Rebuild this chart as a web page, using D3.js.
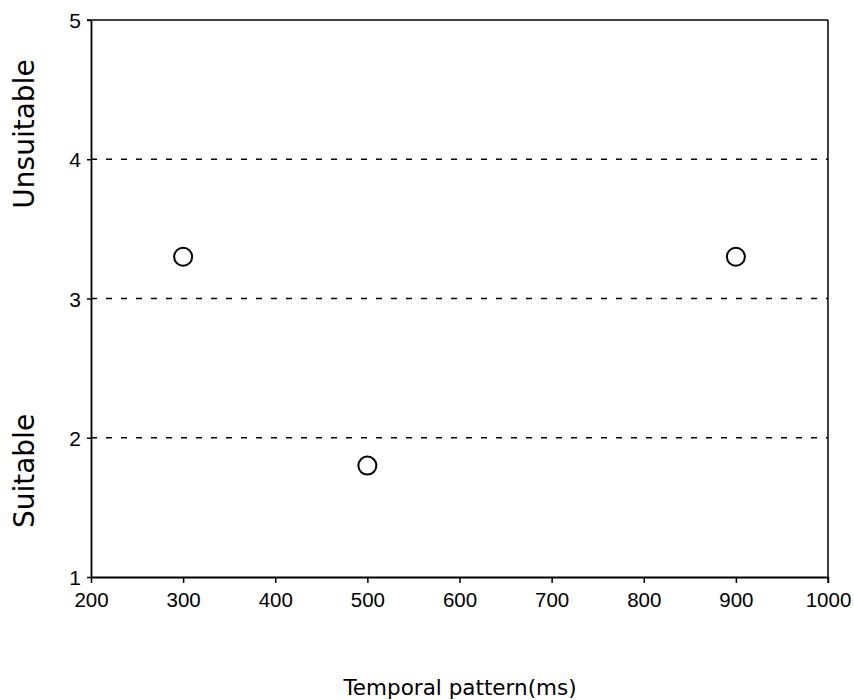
<!DOCTYPE html>
<html>
<head>
<meta charset="utf-8">
<script src="https://cdn.jsdelivr.net/npm/d3@7"></script>
<style>
  body { margin: 0; background: #fff; }
  svg { display: block; font-family: "DejaVu Sans", sans-serif; }
</style>
</head>
<body>
<div id="chart"></div>
<script>
// data
const patterns = [300, 500, 900];        // temporal pattern (ms)
const ratings = [3.3, 1.8, 3.3];         // mean rating
const xTicks = [200, 300, 400, 500, 600, 700, 800, 900, 1000];
const yTicks = [1, 2, 3, 4, 5];
const gridValues = [2, 3, 4];

const margin = { top: 20, right: 26, bottom: 123, left: 91 };
const width = 854 - margin.left - margin.right;
const height = 700 - margin.top - margin.bottom;

const svg = d3.select('#chart')
  .append('svg')
  .attr('width', 854)
  .attr('height', 700);

const g = svg.append('g')
  .attr('transform', `translate(${margin.left}, ${margin.top})`);

const x = d3.scaleLinear().domain([200, 1000]).range([0, width]);
const y = d3.scaleLinear().domain([1, 5]).range([height, 0]);

// dashed horizontal gridlines
g.selectAll('.grid')
  .data(gridValues)
  .enter()
  .append('line')
  .attr('class', 'grid')
  .attr('x1', 0)
  .attr('x2', width)
  .attr('y1', d => y(d))
  .attr('y2', d => y(d))
  .attr('stroke', '#000')
  .attr('stroke-width', 1.3)
  .attr('stroke-dasharray', '6,9');

// frame: top and right edges
g.append('line')
  .attr('x1', -4).attr('x2', width)
  .attr('y1', 0).attr('y2', 0)
  .attr('stroke', '#000').attr('stroke-width', 1.5);
g.append('line')
  .attr('x1', width).attr('x2', width)
  .attr('y1', 0).attr('y2', height + 6)
  .attr('stroke', '#000').attr('stroke-width', 1.5);

// x axis
const xAxis = g.append('g')
  .attr('transform', `translate(0, ${height})`)
  .call(d3.axisBottom(x).tickValues(xTicks).tickFormat(d3.format('d'))
    .tickSize(6).tickSizeOuter(0));
xAxis.select('.domain').attr('stroke-width', 1.8);
xAxis.selectAll('.tick line').attr('stroke-width', 1.5);
xAxis.selectAll('text')
  .attr('y', 15)
  .attr('dy', '0.73em')
  .style('font-size', '20.5px')
  .style('fill', '#000');

// y axis
const yAxis = g.append('g')
  .call(d3.axisLeft(y).tickValues(yTicks).tickFormat(d3.format('d'))
    .tickSize(4).tickSizeOuter(0));
yAxis.select('.domain').attr('stroke-width', 1.8);
yAxis.selectAll('.tick line').attr('stroke-width', 1.5);
yAxis.selectAll('text')
  .attr('x', -10)
  .attr('dy', '0.36em')
  .style('font-size', '21px')
  .style('fill', '#000');

// data points (open circles)
g.selectAll('.pt')
  .data(patterns)
  .enter()
  .append('circle')
  .attr('class', 'pt')
  .attr('cx', d => x(d))
  .attr('cy', (d, i) => y(ratings[i]))
  .attr('r', 9)
  .attr('fill', '#fff')
  .attr('stroke', '#000')
  .attr('stroke-width', 2);

// axis titles
svg.append('text')
  .attr('x', 460)
  .attr('y', 695)
  .attr('text-anchor', 'middle')
  .style('font-size', '21.5px')
  .text('Temporal pattern(ms)');

svg.append('text')
  .attr('transform', 'translate(34, 134) rotate(-90)')
  .attr('text-anchor', 'middle')
  .style('font-size', '28px')
  .text('Unsuitable');

svg.append('text')
  .attr('transform', 'translate(34, 471) rotate(-90)')
  .attr('text-anchor', 'middle')
  .style('font-size', '28px')
  .text('Suitable');
</script>
</body>
</html>
